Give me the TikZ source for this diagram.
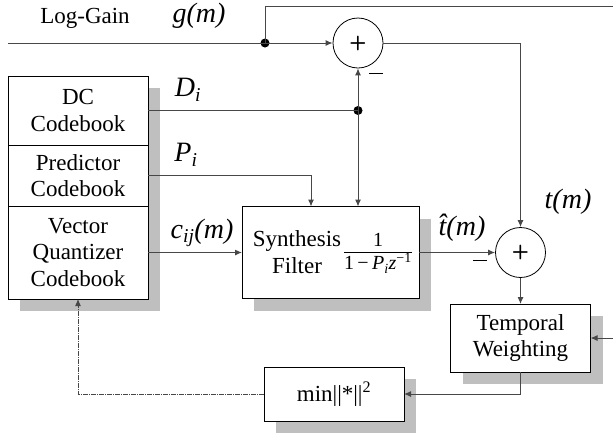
\documentclass[tikz,border=0pt]{standalone}
\usepackage{fontspec}
\setmainfont{Liberation Serif}
\usetikzlibrary{arrows.meta,shadows,positioning,calc}

\tikzstyle{block}=[draw, fill=white, line width=.8pt, minimum width=140pt, align=center, inner sep=2pt, outer sep=0pt,
  drop shadow={shadow xshift=12pt, shadow yshift=-12pt, fill=black!25, opacity=1}]
\tikzstyle{summer}=[draw, fill=white, circle, minimum size=50pt, inner sep=0pt, line width=.8pt, font=\fontsize{20}{20}\sffamily\bfseries]
\tikzstyle{junction}=[circle, fill=black, minimum size=9pt, inner sep=0pt]
\tikzstyle{lbl}=[font=\fontsize{28}{30}\selectfont\itshape]
\tikzset{wire/.style={line width=1pt, black!72}}
\tikzset{arr/.style={-{Latex[length=7pt,width=6pt]}}}
\tikzset{feedback/.style={dash pattern=on 5pt off 1pt on 1pt off 1pt}}
\newcommand{\minussign}{\rule[7pt]{14pt}{1.4pt}}
\tikzset{y=-1pt}
\tikzset{x=1pt}

\begin{document}
\begin{tikzpicture}[font=\fontsize{23}{26.5}\selectfont]
  \useasboundingbox (0,0) rectangle (613,432);

  %% Codebooks
  \draw (78,110.5) node[block, minimum height=69pt] (dc) {DC\\Codebook};
  \node[block, minimum height=61pt, below=0pt of dc] (pred) {Predictor\\Codebook};
  \node[block, minimum height=93pt, below=0pt of pred] (vq) {Vector\\Quantizer\\Codebook};

  %% Filter and the rest
  \draw (330.5,252.5) node[block, minimum width=177pt, minimum height=92pt] (synth) {};
  \draw (297,252) node[align=center] (synthtxt) {Synthesis\\Filter};
  \draw (378,254) node[font=\fontsize{20}{22}\selectfont, inner sep=0pt] (frac)
    {\begin{tabular}{@{}c@{}}1\\[-2pt]\hline\rule{0pt}{18pt}1\,−\,\textit{P}\textsubscript{\textit{i}}\textit{z}\textsuperscript{−1}\end{tabular}};
  \draw (520.5,338) node[block, minimum height=68pt] (tw) {Temporal\\Weighting};
  \draw (334,394) node[block, minimum height=54pt] (mse) {min||*||\textsuperscript{2}};

  \draw (358,43) node[summer] (sum1) {+};
  \draw (520.5,252.5) node[summer] (sum2) {+};
  \draw (265,43) node[junction] (jg) {};
  \draw (358,110.5) node[junction] (jd) {};

  \coordinate (gin) at (8,43);
  \coordinate (topR) at (616,6);

  %% Connections
  \draw[wire,arr] (gin) -- (sum1);
  \draw[wire,arr] (jg.center) |- (topR) |- (tw.east);
  \draw[wire] (dc.east) -- (jd.center);
  \draw[wire,arr] (jd.center) -- (sum1);
  \draw[wire,arr] (jd.center) -- (jd.center |- synth.north);
  \draw[wire,arr] (pred.east) -| ($(synth.north west)+(69,0)$);
  \draw[wire,arr] (vq.east) -- (synth.west);
  \draw[wire,arr] (synth.east) -- (sum2);
  \draw[wire,arr] (sum1) -| (sum2);
  \draw[wire,arr] (sum2) -- (tw);
  \draw[wire,arr] (tw.south) |- (mse);
  \draw[wire,arr,feedback] (mse) -| (vq);

  %% Labels
  \draw (85,18) node (loggain) {Log-Gain};
  \draw (199,16) node[lbl] (glbl) {g(m)};
  \draw (188,90) node[lbl] (dlbl) {D\textsubscript{i}};
  \draw (186,155) node[lbl] (plbl) {P\textsubscript{i}};
  \draw (202,233) node[lbl] (clbl) {c\textsubscript{ij}(m)};
  \draw (462,228) node[lbl] (thatlbl) {\^{t}(m)};
  \draw (568,202) node[lbl] (tlbl) {t(m)};
  \draw (376,77) node[inner sep=0pt] (minus1) {\minussign};
  \draw (480,264) node[inner sep=0pt] (minus2) {\minussign};
\end{tikzpicture}
\end{document}
